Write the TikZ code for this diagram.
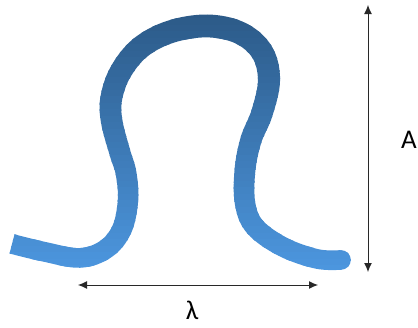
\documentclass[tikz,border=0pt]{standalone}
\usepackage{fontspec}
\setmainfont{Carlito}
\usepackage{tikz}
\usetikzlibrary{
    positioning,
    arrows.meta
}
\definecolor{omega_dark}{RGB}{44,90,136}
\definecolor{omega_light}{RGB}{76,150,222}
\definecolor{dim_line}{RGB}{40,40,40}
\tikzset{
    dimension/.style={
        {Latex[length=9pt,width=8pt]}-{Latex[length=9pt,width=8pt]},
        draw=dim_line, line width=1pt
    },
    dimlabel/.style={
        font=\fontsize{27}{30}\selectfont, text=black, inner sep=0pt
    }
}
\newcommand{\omegapath}{
    plot[smooth, tension=0.6] coordinates {
        (12,244) (45,252) (80,258) (106,249) (122,229) (128,200)
        (126,173) (120,153) (112,123) (111,100) (120,73) (140,48)
        (170,32) (207,26) (240,33) (262,52) (269,80) (262,113)
        (251,140) (245,170) (245,203) (255,227) (283,247) (317,259)
        (341,260)}
}

\begin{document}
\begin{tikzpicture}[x=1pt, y=-1pt]

    \useasboundingbox (0,0) rectangle (418,327);

    % --- Omega: gradiente vertical por franjas ---
    \foreach \i in {0,...,39} {
        \pgfmathsetmacro{\pct}{100*\i/39}
        \pgfmathsetmacro{\ytop}{12+6.5*\i}
        \pgfmathsetmacro{\lw}{23-3.5*\i/39}
        \begin{scope}
            \clip (0,\ytop) rectangle (418,\ytop+7.5);
            \draw[line width=\lw pt, color=omega_light!\pct!omega_dark] \omegapath;
            \fill[color=omega_light!\pct!omega_dark] (341,260) circle (\lw/2);
        \end{scope}
    }

    % --- Cotas ---
    \coordinate (amp_top) at (368,5);
    \coordinate (amp_bot) at (368,272);
    \coordinate (wl_left) at (78,285);
    \coordinate (wl_right) at (318,285);

    \draw[dimension] (amp_top) -- (amp_bot);
    \draw[dimension] (wl_left) -- (wl_right);

    \node[dimlabel, anchor=west] (amp) at (401,140) {A};
    \node[dimlabel] (wl) at (192,310) {λ};

\end{tikzpicture}
\end{document}
